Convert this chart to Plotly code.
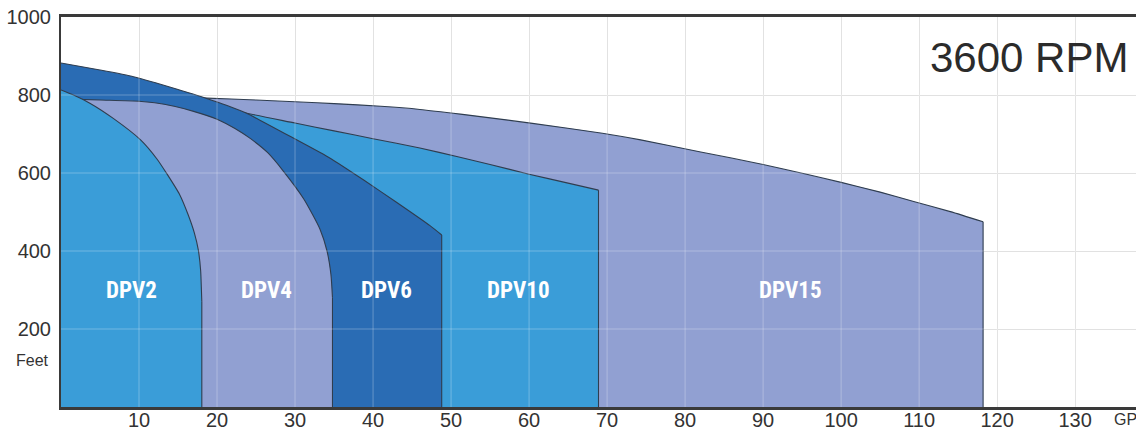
import plotly.graph_objects as go

# ---- data (flow GPM, head feet) ----
dpv2_q = [0, 1.6, 3.7, 6.7, 10.2, 12.3, 13.6, 15.2, 16.3, 17.1, 17.6, 17.9, 18.0, 18.05]
dpv2_h = [813, 800, 779, 740, 685, 636, 597, 545, 493, 446, 403, 350, 300, 270]

dpv4_q = [0, 5, 10, 12, 14.5, 17, 20, 22.3, 24.3, 26.5, 28.5, 31.1, 33.2, 34.1, 34.6, 34.8]
dpv4_h = [790, 787, 784, 780, 771, 758, 738, 714, 688, 652, 605, 534, 456, 400, 340, 280]

dpv6_q = [0, 5, 9.3, 12, 15, 17.8, 20, 21.7, 23.8, 30.2, 34.5, 38.8, 43, 47.3, 48.8]
dpv6_h = [882, 864, 847, 832, 814, 797, 782, 770, 753, 685, 638, 582, 525, 465, 441]

dpv10_q = [0, 10, 18, 23.8, 30, 35, 40, 46, 51, 55, 60, 65, 68.9]
dpv10_h = [830, 800, 772, 753, 728, 708, 688, 664, 641, 622, 597, 574, 556]

dpv15_q = [0, 10, 18.7, 25, 30.7, 35, 41, 46, 51.2, 60.2, 69.4, 74.3, 82, 90, 95.3, 100, 105, 109.3, 114, 118.2]
dpv15_h = [800, 796, 792, 787, 782, 778, 771, 763, 751, 728, 702, 685, 654, 622, 598, 576, 551, 527, 501, 475]

model_names = ["DPV15", "DPV10", "DPV6", "DPV4", "DPV2"]
label_q = {"DPV2": 9.1, "DPV4": 26.4, "DPV6": 41.7, "DPV10": 58.6, "DPV15": 93.5}
label_h = 300

x_ticks = [10, 20, 30, 40, 50, 60, 70, 80, 90, 100, 110, 120, 130]
y_ticks = [200, 400, 600, 800, 1000]
y_tick_text = ["200", "400", "600", "800", "1000"]

LIGHT = "#3a9dd8"
LAV = "#91a0d2"
DARK = "#2a6cb4"
OUTLINE = "#2f3d4f"

curves = {
    "DPV15": (dpv15_q, dpv15_h, LAV),
    "DPV10": (dpv10_q, dpv10_h, LIGHT),
    "DPV6": (dpv6_q, dpv6_h, DARK),
    "DPV4": (dpv4_q, dpv4_h, LAV),
    "DPV2": (dpv2_q, dpv2_h, LIGHT),
}

fig = go.Figure()
for name in model_names:
    q, h, col = curves[name]
    # filled area under the head curve (drops vertically to 0 at the last flow)
    fig.add_trace(go.Scatter(
        x=q, y=h, mode="lines", fill="tozeroy", fillcolor=col,
        line=dict(color=OUTLINE, width=1.1, shape="spline", smoothing=0.6),
        hoverinfo="skip", showlegend=False, name=name,
    ))
    # outline of the vertical end edge
    fig.add_trace(go.Scatter(
        x=[q[-1], q[-1]], y=[h[-1], 0], mode="lines",
        line=dict(color=OUTLINE, width=1.1), hoverinfo="skip", showlegend=False,
    ))

for name in model_names:
    fig.add_annotation(
        x=label_q[name], y=label_h, text="<b>%s</b>" % name, showarrow=False,
        font=dict(family="Liberation Sans Narrow, Roboto Condensed, Arial Narrow, Roboto, sans-serif",
                  size=23, color="white"),
        xanchor="center", yanchor="middle",
    )

# faint grid lines visible over the coloured areas
shapes = []
for v in x_ticks:
    shapes.append(dict(type="line", xref="x", yref="y", x0=v, x1=v, y0=0, y1=1000,
                       line=dict(color="rgba(255,255,255,0.28)", width=1), layer="above"))
for v in y_ticks[:-1]:
    shapes.append(dict(type="line", xref="paper", yref="y", x0=0, x1=1, y0=v, y1=v,
                       line=dict(color="rgba(255,255,255,0.28)", width=1), layer="above"))
fig.update_layout(shapes=shapes)

fig.add_annotation(
    xref="paper", yref="y", x=1, y=895, xshift=-6, text="3600 RPM", showarrow=False,
    font=dict(family="Liberation Sans, Arial, sans-serif", size=42, color="#2b2b2b"),
    xanchor="right", yanchor="middle",
)
fig.add_annotation(
    xref="paper", yref="y", x=0, y=118, xshift=-10, text="Feet", showarrow=False,
    font=dict(family="Liberation Sans, Arial, sans-serif", size=16, color="#333333"),
    xanchor="right", yanchor="middle",
)
fig.add_annotation(
    xref="paper", yref="paper", x=0.9777, y=-0.031, text="GPM", showarrow=False,
    font=dict(family="Liberation Sans, Arial, sans-serif", size=16, color="#333333"),
    xanchor="left", yanchor="middle",
)

fig.update_layout(
    width=1136, height=431,
    margin=dict(l=61, r=0, t=17, b=24, autoexpand=False),
    paper_bgcolor="white", plot_bgcolor="white",
    font=dict(family="Liberation Sans, Arial, sans-serif", size=20, color="#333333"),
    xaxis=dict(
        range=[0, 137.8], tickvals=x_ticks, ticktext=[str(v) for v in x_ticks],
        showgrid=True, gridcolor="#dddddd", gridwidth=1, zeroline=False,
        showline=True, linecolor="#3a3a3a", linewidth=2.5, mirror=True,
        ticks="", ticklabelstandoff=-7, automargin=False,
        tickfont=dict(size=20, color="#333333"),
    ),
    yaxis=dict(
        range=[0, 1000], tickvals=y_ticks, ticktext=y_tick_text,
        showgrid=True, gridcolor="#dddddd", gridwidth=1, zeroline=False,
        showline=True, linecolor="#3a3a3a", linewidth=2, mirror=False,
        ticks="", ticklabelstandoff=4, automargin=False,
        tickfont=dict(size=20, color="#333333"),
    ),
)

fig.write_html(
    "out.html",
    config={"displayModeBar": False},
    post_script="document.body.style.margin='0';document.body.style.overflow='hidden';",
)
